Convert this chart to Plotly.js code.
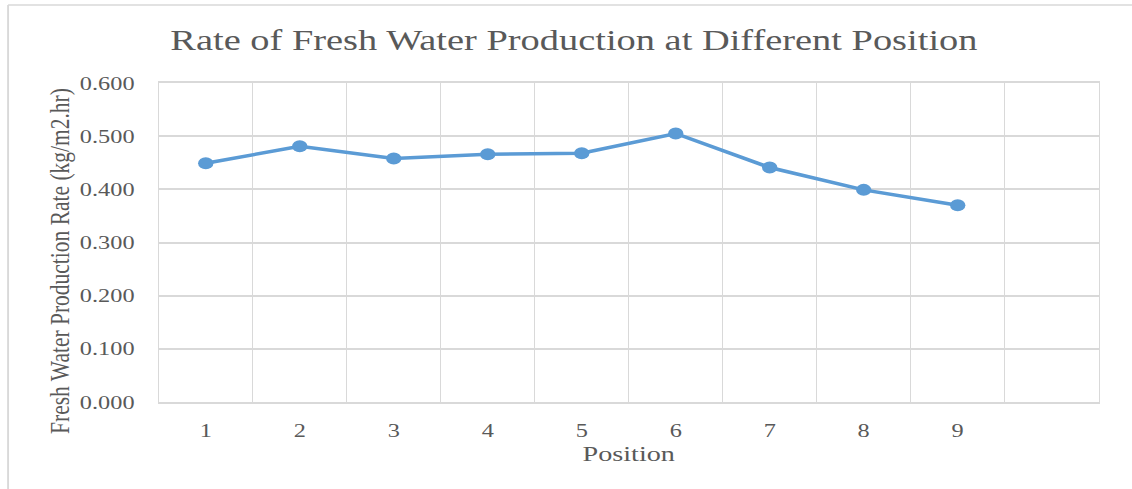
<!DOCTYPE html>
<html>
<head>
<meta charset="utf-8">
<script src="https://cdn.plot.ly/plotly-3.0.1.min.js"></script>
<style>
  html, body { margin: 0; padding: 0; background: #fff; overflow: hidden; }
  #wrap { width: 1132px; height: 489px; overflow: hidden; }
  #chart { width: 884px; height: 489px; transform: scaleX(1.2805); transform-origin: 0 0; }
</style>
</head>
<body>
<div id="wrap"><div id="chart"></div></div>
<script>
const positions = ['1', '2', '3', '4', '5', '6', '7', '8', '9'];
const axisCategories = ['1', '2', '3', '4', '5', '6', '7', '8', '9', ' '];
const rates = [0.449, 0.481, 0.458, 0.466, 0.468, 0.505, 0.441, 0.399, 0.370];
const yTicks = [0, 0.1, 0.2, 0.3, 0.4, 0.5, 0.6];

const chartTitle = 'Rate of Fresh Water Production at Different Position';
const xTitle = 'Position';
const yTitle = 'Fresh Water Production Rate (kg/m2.hr)';

const serif = '"Liberation Serif", "Times New Roman", serif';
const textColor = '#595959';
const gridColor = '#D9D9D9';

const trace = {
  type: 'scatter',
  mode: 'lines+markers',
  x: positions,
  y: rates,
  line: { color: '#5B9BD5', width: 3.5 },
  marker: { color: '#5B9BD5', size: 12 },
  hoverinfo: 'x+y'
};

const layout = {
  width: 884,
  height: 489,
  margin: { l: 124, r: 26, t: 83, b: 87 },
  paper_bgcolor: '#ffffff',
  plot_bgcolor: '#ffffff',
  showlegend: false,
  font: { family: serif, color: textColor },
  title: {
    text: chartTitle,
    font: { family: serif, size: 30, color: textColor },
    xref: 'container', x: 0.507, xanchor: 'center',
    yref: 'container', y: 1 - 40 / 489, yanchor: 'middle'
  },
  xaxis: {
    type: 'category',
    categoryorder: 'array',
    categoryarray: axisCategories,
    range: [-0.5, 9.5],
    tickson: 'boundaries',
    showgrid: true,
    gridcolor: gridColor,
    gridwidth: 1.2,
    showline: true,
    mirror: true,
    linecolor: gridColor,
    linewidth: 1.5,
    ticks: '',
    tickfont: { family: serif, size: 19, color: textColor },
    ticklabelstandoff: 10,
    title: { text: xTitle, font: { family: serif, size: 22, color: textColor }, standoff: 6 },
    fixedrange: true
  },
  yaxis: {
    range: [0, 0.6],
    tickvals: yTicks,
    tickformat: '.3f',
    showgrid: true,
    gridcolor: gridColor,
    gridwidth: 1.5,
    zeroline: false,
    showline: true,
    mirror: true,
    linecolor: gridColor,
    linewidth: 1.2,
    ticks: '',
    tickfont: { family: serif, size: 19, color: textColor },
    ticklabelstandoff: 14,
    fixedrange: true
  },
  annotations: [{
    text: yTitle,
    xref: 'paper', yref: 'paper',
    x: (47 - 124) / 734, y: (402 - 261) / 319,
    xanchor: 'center', yanchor: 'middle',
    textangle: -90,
    showarrow: false,
    font: { family: serif, size: 21.5, color: textColor }
  }],
  shapes: [
    { type: 'line', xref: 'paper', yref: 'paper', layer: 'below',
      x0: (6.3 - 124) / 734, x1: (6.3 - 124) / 734, y0: (402 - 5) / 319, y1: (402 - 495) / 319,
      line: { color: gridColor, width: 1.5 } },
    { type: 'line', xref: 'paper', yref: 'paper', layer: 'below',
      x0: (6.3 - 124) / 734, x1: (890 - 124) / 734, y0: (402 - 5) / 319, y1: (402 - 5) / 319,
      line: { color: gridColor, width: 1.5 } }
  ]
};

Plotly.newPlot('chart', [trace], layout, { displayModeBar: false, responsive: false });
</script>
</body>
</html>
